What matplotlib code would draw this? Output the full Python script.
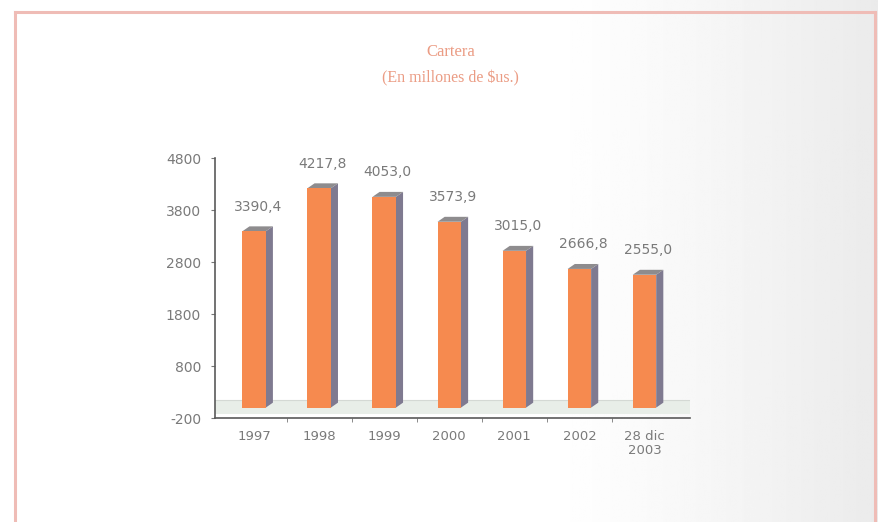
import matplotlib.pyplot as plt
import numpy as np
from matplotlib.patches import Polygon
from matplotlib.lines import Line2D

# Cartera, en millones de $us.
years = ['1997', '1998', '1999', '2000', '2001', '2002', '28 dic\n2003']
cartera = [3390.4, 4217.8, 4053.0, 3573.9, 3015.0, 2666.8, 2555.0]
value_labels = ['3390,4', '4217,8', '4053,0', '3573,9', '3015,0', '2666,8', '2555,0']
y_ticks = [-200, 800, 1800, 2800, 3800, 4800]

front_color = '#f68a4f'
side_color = '#7f7a90'
top_color = '#8e8c8e'
text_gray = '#7a7a7a'
title_color = '#eb9c84'
label_font = ['DejaVu Sans']

fig = plt.figure(figsize=(8.79, 5.22), dpi=100)

# paper background, slightly grey towards the right edge
bg = fig.add_axes([0, 0, 1, 1], zorder=-10)
grad = np.clip((np.linspace(0, 1, 400) - 0.62) / 0.38, 0, 1) ** 1.2
bg.imshow(np.tile(1 - 0.08 * grad, (2, 1)), cmap='gray', vmin=0, vmax=1,
          aspect='auto', extent=[0, 1, 0, 1])
bg.set_xlim(0, 1)
bg.set_ylim(0, 1)
bg.axis('off')

# pink frame
frame_kw = dict(color='#efbcb6', lw=2.2, transform=fig.transFigure)
fig.add_artist(Line2D([15 / 879, 875 / 879], [1 - 12 / 522, 1 - 12 / 522], **frame_kw))
fig.add_artist(Line2D([15 / 879, 15 / 879], [0, 1 - 12 / 522], **frame_kw))
fig.add_artist(Line2D([875 / 879, 875 / 879], [0, 1 - 12 / 522], **frame_kw))

fig.text(0.513, 1 - 52 / 522, 'Cartera', ha='center', va='center',
         color=title_color, fontsize=12, family='Liberation Serif')
fig.text(0.513, 1 - 78 / 522, '(En millones de $us.)', ha='center', va='center',
         color=title_color, fontsize=11.5, family='Liberation Serif')

ax = fig.add_axes([215 / 879, 104 / 522, 475 / 879, 260 / 522])
ax.patch.set_alpha(0)
ax.set_xlim(-0.6, 6.7)
ax.set_ylim(-200, 4800)

x = np.arange(len(years))
w = 0.36
dx, dy = 0.11, 95

# floor of the 3D box
floor = Polygon([(-0.6, -120), (6.7, -120), (6.7, 150), (-0.6, 150)],
                closed=True, facecolor='#e8eee8', edgecolor='none', zorder=1)
ax.add_patch(floor)
ax.axhline(150, color='#d4d9d4', lw=0.8, zorder=1)

ax.bar(x, cartera, width=w, color=front_color, zorder=3)
for xi, v in zip(x, cartera):
    left, right = xi - w / 2, xi + w / 2
    side = Polygon([(right, 0), (right + dx, dy), (right + dx, v + dy), (right, v)],
                   closed=True, facecolor=side_color, edgecolor='none', zorder=2)
    top = Polygon([(left, v), (left + dx, v + dy), (right + dx, v + dy), (right, v)],
                  closed=True, facecolor=top_color, edgecolor='none', zorder=2)
    ax.add_patch(side)
    ax.add_patch(top)

for xi, v, lab in zip(x, cartera, value_labels):
    ax.annotate(lab, (xi + dx / 2, v + dy), xytext=(0, 9), textcoords='offset points',
                ha='center', va='bottom', fontsize=10, color=text_gray,
                family=label_font)

for side in ['top', 'right']:
    ax.spines[side].set_visible(False)
for side in ['left', 'bottom']:
    ax.spines[side].set_color('#5a5a5a')
    ax.spines[side].set_linewidth(1.2)

ax.set_yticks(y_ticks)
ax.set_yticklabels([str(t) for t in y_ticks], family=label_font, fontsize=10,
                   color=text_gray)
ax.tick_params(axis='y', length=3, color='#777777', pad=7)

ax.set_xticks(x)
ax.set_xticklabels(years, family=label_font, fontsize=9.5, color=text_gray,
                   linespacing=1.0)
ax.tick_params(axis='x', length=0, pad=9)
ax.set_xticks(x[:-1] + 0.5, minor=True)
ax.tick_params(axis='x', which='minor', length=3, color='#777777')

fig.savefig('out.png', dpi=100)
